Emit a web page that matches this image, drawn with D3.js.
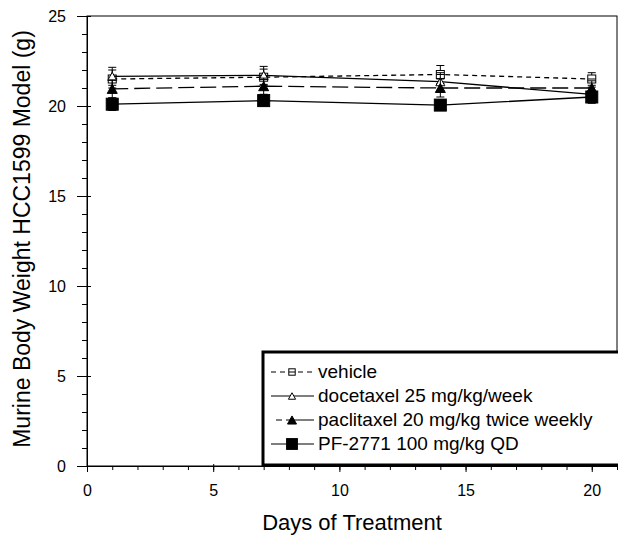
<!DOCTYPE html>
<html>
<head>
<meta charset="utf-8">
<script src="https://cdn.jsdelivr.net/npm/d3@7"></script>
<style>
body { margin: 0; background: #fff; }
text { font-family: "Liberation Sans", Arial, sans-serif; }
</style>
</head>
<body>
<script>
// data
const days = [1, 7, 14, 20];
const seriesNames = ["vehicle", "docetaxel 25 mg/kg/week", "paclitaxel 20 mg/kg twice weekly", "PF-2771 100 mg/kg QD"];
const vehicle = [21.5, 21.6, 21.75, 21.5];
const vehicleErr = [0.5, 0.45, 0.5, 0.35];
const docetaxel = [21.65, 21.7, 21.35, 20.65];
const docetaxelErr = [0.5, 0.5, 0.5, 0.4];
const paclitaxel = [20.95, 21.1, 21.0, 21.0];
const paclitaxelErr = [0.5, 0.45, 0.5, 0.4];
const pf2771 = [20.1, 20.3, 20.05, 20.5];
const pf2771Err = [0.35, 0.3, 0.3, 0.35];
const xTicks = [0, 5, 10, 15, 20];
const yTicks = [0, 5, 10, 15, 20, 25];

const width = 618, height = 535;
const margin = {left: 87, right: 1, top: 16, bottom: 69};

const svg = d3.select("body").append("svg")
	.attr("width", width)
	.attr("height", height);

const x = d3.scaleLinear().domain([0, 21]).range([margin.left, width - margin.right]);
const y = d3.scaleLinear().domain([0, 25]).range([height - margin.bottom, margin.top]);

// frame
svg.append("rect")
	.attr("x", x(0)).attr("y", y(25))
	.attr("width", x(21) - x(0)).attr("height", y(0) - y(25))
	.attr("fill", "none").attr("stroke", "#000").attr("stroke-width", 1);

// axes
const xAxis = svg.append("g").attr("transform", `translate(0,${y(0)})`)
	.call(d3.axisBottom(x).tickValues(xTicks).tickSize(8).tickSizeOuter(0).tickPadding(11));
svg.append("g").attr("transform", `translate(0,${y(0)})`)
	.call(d3.axisBottom(x).tickValues(d3.range(0, 22, 1)).tickSize(4).tickFormat("").tickSizeOuter(0))
	.select(".domain").remove();
xAxis.selectAll("line").attr("transform", "translate(0,-2)");

const yAxis = svg.append("g").attr("transform", `translate(${x(0)},0)`)
	.call(d3.axisLeft(y).tickValues(yTicks).tickSize(14).tickSizeOuter(0).tickPadding(7));
yAxis.selectAll("line").attr("transform", "translate(4,0)");
svg.append("g").attr("transform", `translate(${x(0)},0)`)
	.call(d3.axisLeft(y).tickValues(d3.range(0, 26, 1)).tickSize(5).tickFormat("").tickSizeOuter(0))
	.select(".domain").remove();

svg.selectAll(".tick text").attr("font-size", 16).attr("fill", "#000")
	.attr("font-family", "Liberation Sans, Arial, sans-serif");
svg.selectAll(".domain, .tick line").attr("stroke", "#000");

// axis titles
svg.append("text")
	.attr("x", (x(0) + x(21)) / 2).attr("y", 530)
	.attr("text-anchor", "middle").attr("font-size", 22)
	.text("Days of Treatment");
svg.append("text")
	.attr("transform", `translate(30,${(y(0) + y(25)) / 2 - 2}) rotate(-90)`)
	.attr("text-anchor", "middle").attr("font-size", 23)
	.text("Murine Body Weight HCC1599 Model (g)");

const series = [
	{name: seriesNames[0], vals: vehicle, err: vehicleErr, dash: "5,4", marker: "square", fill: "#fff", size: 8},
	{name: seriesNames[1], vals: docetaxel, err: docetaxelErr, dash: null, marker: "triangle", fill: "#fff", size: 9},
	{name: seriesNames[2], vals: paclitaxel, err: paclitaxelErr, dash: "16,6", marker: "triangle", fill: "#000", size: 10},
	{name: seriesNames[3], vals: pf2771, err: pf2771Err, dash: null, marker: "square", fill: "#000", size: 12}
];

function drawMarker(g, s, cx, cy, scale = 1) {
	const sz = s.size * scale;
	if (s.marker === "square") {
		g.append("rect")
			.attr("x", cx - sz / 2).attr("y", cy - sz / 2)
			.attr("width", sz).attr("height", sz)
			.attr("fill", s.fill).attr("stroke", "#000").attr("stroke-width", 1);
		if (s.fill === "#fff") {
			g.append("line").attr("x1", cx - sz / 2).attr("x2", cx + sz / 2)
				.attr("y1", cy).attr("y2", cy).attr("stroke", "#000");
		}
	} else {
		const h = sz * 0.9;
		g.append("path")
			.attr("d", `M${cx},${cy - h / 2}L${cx + sz / 2},${cy + h / 2}L${cx - sz / 2},${cy + h / 2}Z`)
			.attr("fill", s.fill).attr("stroke", "#000").attr("stroke-width", 1);
	}
}

const line = d3.line().x((d, i) => x(days[i])).y(d => y(d));

series.forEach(s => {
	const g = svg.append("g");
	g.append("path").datum(s.vals)
		.attr("d", line)
		.attr("fill", "none").attr("stroke", "#000").attr("stroke-width", 1.3)
		.attr("stroke-dasharray", s.dash);
	days.forEach((d, i) => {
		const cx = x(d);
		const lo = y(s.vals[i] - s.err[i]), hi = y(s.vals[i] + s.err[i]);
		g.append("line").attr("x1", cx).attr("x2", cx).attr("y1", lo).attr("y2", hi)
			.attr("stroke", "#000");
		[lo, hi].forEach(v => g.append("line")
			.attr("x1", cx - 4).attr("x2", cx + 4).attr("y1", v).attr("y2", v)
			.attr("stroke", "#000"));
	});
	days.forEach((d, i) => drawMarker(g, s, x(d), y(s.vals[i])));
});

// legend
const legend = svg.append("g");
legend.append("rect")
	.attr("x", 263).attr("y", 352)
	.attr("width", 360).attr("height", 113)
	.attr("fill", "#fff").attr("stroke", "#000").attr("stroke-width", 3);
series.forEach((s, i) => {
	const ly = 372 + i * 24;
	legend.append("line")
		.attr("x1", s.dash === "16,6" ? 276 : 271).attr("x2", 314)
		.attr("y1", ly).attr("y2", ly)
		.attr("stroke", "#000").attr("stroke-width", 1.2)
		.attr("stroke-dasharray", s.dash === "16,6" ? "6,4,30" : s.dash);
	drawMarker(legend, s, 292, ly, s.fill === "#fff" ? 0.8 : 0.9);
	legend.append("text")
		.attr("x", 318).attr("y", ly + 6)
		.attr("font-size", 19)
		.text(s.name);
});
</script>
</body>
</html>
